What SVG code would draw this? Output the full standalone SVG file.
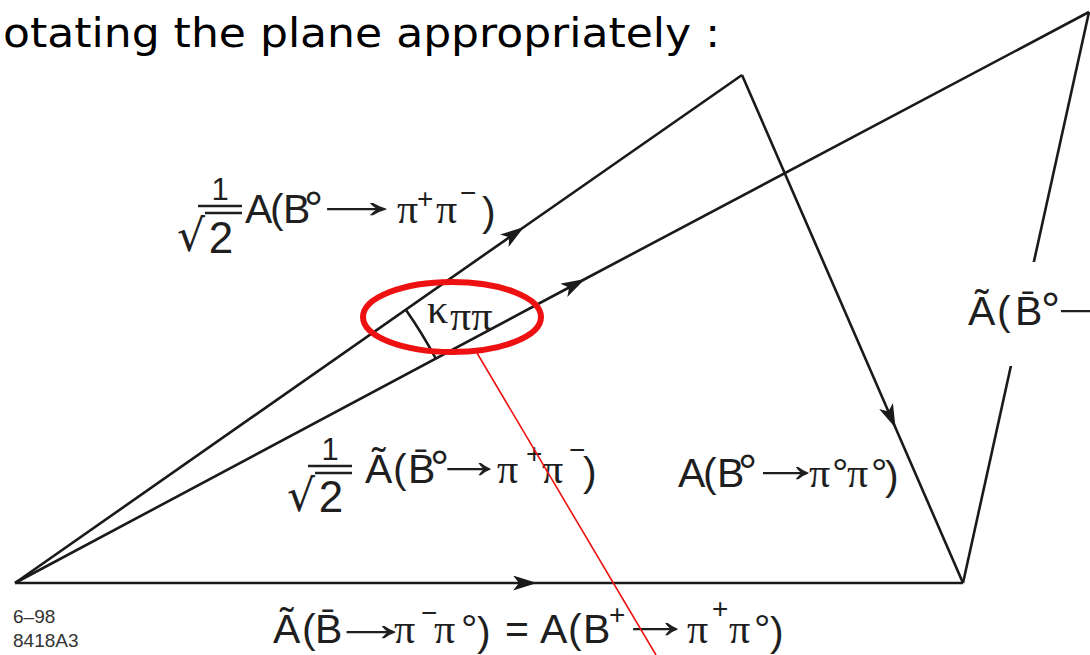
<svg xmlns="http://www.w3.org/2000/svg" width="1090" height="655" viewBox="0 0 1090 655">
<defs>
<marker id="ah" viewBox="0 0 24 15" markerWidth="24" markerHeight="15" refX="24" refY="7.5" orient="auto" markerUnits="userSpaceOnUse">
<path d="M0,0 L24,7.5 L0,15 L6,7.5 z" fill="#1a1a1a"/>
</marker>
<style>
.ln{fill:none;stroke:#1a1a1a;stroke-width:2.6;stroke-linejoin:miter}
.rule{stroke:#1f1f1f;stroke-width:2.4}
.s{font-family:"Liberation Sans",Arial,sans-serif;fill:#1f1f1f;font-size:41px}
.ar{font-family:"Liberation Sans",Arial,sans-serif;fill:#1f1f1f;font-size:52px}
.dg{font-family:"Liberation Sans",Arial,sans-serif;fill:#1f1f1f;font-size:48px}
.sp{font-family:"Liberation Sans",Arial,sans-serif;fill:#1f1f1f;font-size:28px}
.pi{font-family:"Liberation Serif","Times New Roman",serif;fill:#1f1f1f;font-size:42px}
.fr1{font-family:"Liberation Sans",Arial,sans-serif;fill:#1f1f1f;font-size:31px}
.fr2{font-family:"Liberation Sans",Arial,sans-serif;fill:#1f1f1f;font-size:44px}
.rad{font-family:"DejaVu Sans",sans-serif;fill:#1f1f1f;font-size:44px}
.sm{font-family:"Liberation Sans",Arial,sans-serif;fill:#333;font-size:19px}
.title{font-family:"DejaVu Sans",sans-serif;fill:#000;font-size:40px}
</style>
</defs>
<rect width="1090" height="655" fill="#fff"/>

<text id="title" class="title" x="3" y="47" textLength="717" lengthAdjust="spacingAndGlyphs">otating the plane appropriately :</text>

<g id="connectors">
<path class="ln" d="M15,583 L524,227 L742,75" marker-mid="url(#ah)"/>
<path class="ln" d="M15,583 L585,279 L1089,12" marker-mid="url(#ah)"/>
<path class="ln" d="M742,75 L895.6,428 L963,583" marker-mid="url(#ah)"/>
<path class="ln" d="M1089,12 L963,583"/>
<path class="ln" d="M15,583 L537,583 L963,583" marker-mid="url(#ah)"/>
<path class="ln" d="M406,310 A477,477 0 0 1 436,359" stroke-width="1.8"/>
</g>

<g id="label-kappa">
<text class="pi" x="427" y="323" font-size="38">κ</text>
<text class="pi" x="450" y="330" font-size="25">ππ</text>
</g>

<g id="label-a-pipm">
<text class="fr1" x="220" y="200" text-anchor="middle">1</text>
<line class="rule" x1="198" y1="206" x2="242" y2="206"/>
<text class="rad" x="177" y="251">√</text>
<line class="rule" x1="205" y1="213" x2="242" y2="213"/>
<text class="fr2" x="221" y="253" text-anchor="middle">2</text>
<text class="s" x="245 270 283" y="223">A(B</text>
<text class="dg" x="304" y="225">°</text>
<text class="ar" transform="translate(307,218) scale(1.93,1)">→</text>
<text class="pi" x="397" y="223">π</text>
<text class="sp" x="417" y="208">+</text>
<text class="pi" x="436" y="223">π</text>
<text class="sp" x="460" y="202">−</text>
<text class="s" x="482" y="226">)</text>
</g>

<g id="label-atilde-pipm">
<text class="fr1" x="330" y="460" text-anchor="middle">1</text>
<line class="rule" x1="308" y1="466" x2="352" y2="466"/>
<text class="rad" x="287" y="511">√</text>
<line class="rule" x1="315" y1="473" x2="352" y2="473"/>
<text class="fr2" x="331" y="512" text-anchor="middle">2</text>
<text class="s" x="365 393 408" y="483">Ã(B̄</text>
<text class="dg" x="430" y="484">°</text>
<text class="ar" transform="translate(432,478) scale(1.41,1)">→</text>
<text class="pi" x="497" y="483">π</text>
<text class="sp" x="526" y="463">+</text>
<text class="pi" x="542" y="483">π</text>
<text class="sp" x="569" y="459">−</text>
<text class="s" x="583" y="486">)</text>
</g>

<g id="label-a-pi0pi0">
<text class="s" x="678 703 717" y="487">A(B</text>
<text class="dg" x="738" y="488">°</text>
<text class="ar" transform="translate(747,482) scale(1.48,1)">→</text>
<text class="pi" x="809" y="487">π</text>
<text class="s" x="832" y="487">°</text>
<text class="pi" x="847" y="487">π</text>
<text class="s" x="871" y="487">°</text>
<text class="s" x="885" y="490">)</text>
</g>

<g id="label-right">
<rect x="955" y="262" width="135" height="104" fill="#fff"/>
<text class="s" x="968 997 1015" y="325">Ã(B̄</text>
<text class="dg" x="1041" y="326">°</text>
<text class="ar" transform="translate(1046,320) scale(1.38,1)">→</text>
</g>

<g id="label-bottom">
<text class="s" x="273 302 315" y="643">Ã(B̄</text>
<text class="ar" transform="translate(330,641) scale(1.59,1)">→</text>
<text class="pi" x="394" y="643">π</text>
<text class="sp" x="421" y="622">−</text>
<text class="pi" x="434" y="643">π</text>
<text class="s" x="461" y="643">°</text>
<text class="s" x="477" y="646">)</text>
<text class="s" x="505" y="643" font-size="30">=</text>
<text class="s" x="540 568 583" y="643">A(B</text>
<text class="sp" x="609" y="624" font-size="32">+</text>
<text class="ar" transform="translate(618,638) scale(1.45,1)">→</text>
<text class="pi" x="687" y="643">π</text>
<text class="sp" x="712" y="618">+</text>
<text class="pi" x="729" y="643">π</text>
<text class="s" x="754" y="643">°</text>
<text class="s" x="770" y="646">)</text>
</g>

<g id="fig-id">
<text class="sm" x="13" y="623">6–98</text>
<text class="sm" x="13" y="647">8418A3</text>
</g>

<g id="annotation">
<ellipse cx="452" cy="317" rx="89" ry="35" fill="none" stroke="#ee1111" stroke-width="6"/>
<line x1="477" y1="353" x2="656" y2="655" stroke="#ee1111" stroke-width="1.6"/>
</g>
</svg>
